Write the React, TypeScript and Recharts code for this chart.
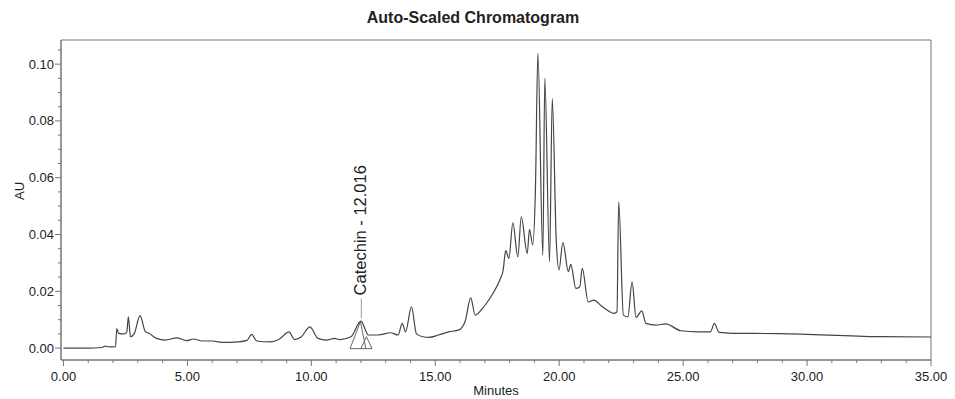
import { LineChart, Line, XAxis, YAxis, ReferenceLine, ReferenceDot, ReferenceArea } from 'recharts'

// retention time (min) and absorbance (AU)
const times = [
  0, 1.0, 1.55, 1.68, 1.85, 2.1, 2.15, 2.22, 2.45, 2.55,
  2.62, 2.7, 2.85, 3.09, 3.3, 3.45, 3.76, 4.1, 4.57, 4.97,
  5.24, 5.6, 6.0, 6.4, 7.07, 7.4, 7.59, 7.8, 8.35, 8.75,
  9.09, 9.33, 9.6, 9.94, 10.27, 10.6, 10.94, 11.15, 11.6, 12.0,
  12.3, 12.7, 13.2, 13.5, 13.67, 13.8, 14.04, 14.24, 14.5, 14.75,
  15.13, 15.53, 15.93, 16.2, 16.43, 16.61, 16.85, 17.06, 17.33, 17.6,
  17.74, 17.84, 17.97, 18.13, 18.33, 18.47, 18.71, 18.8, 18.93, 19.04,
  19.14, 19.34, 19.42, 19.61, 19.72, 19.88, 19.99, 20.15, 20.37, 20.47,
  20.67, 20.83, 20.93, 21.17, 21.4, 21.67, 21.93, 22.2, 22.33, 22.4,
  22.59, 22.77, 22.94, 23.1, 23.33, 23.5, 23.9, 24.3, 24.91, 25.6,
  26.1, 26.26, 26.45, 27.0, 28.9, 32.9, 35.0,
]
const absorbance = [
  0.0, 0.0, 0.0002, 0.0007, 0.0004, 0.0005, 0.0069, 0.0052, 0.005, 0.0055,
  0.011, 0.004, 0.005, 0.0114, 0.0058, 0.0052, 0.0034, 0.0028, 0.0036, 0.0026,
  0.0032, 0.0025, 0.0025, 0.002, 0.0022, 0.0027, 0.0048, 0.0025, 0.0022, 0.0034,
  0.0057, 0.003, 0.004, 0.0075, 0.0034, 0.0028, 0.0034, 0.003, 0.004, 0.0095,
  0.0046, 0.0046, 0.0054, 0.0046, 0.0087, 0.0057, 0.0145, 0.005, 0.004, 0.0038,
  0.0046, 0.0057, 0.0063, 0.0093, 0.0177, 0.0116, 0.0134, 0.0157, 0.0193, 0.0239,
  0.0275, 0.0343, 0.0316, 0.0441, 0.0321, 0.0462, 0.0333, 0.0418, 0.0363, 0.0556,
  0.1038, 0.0327, 0.095, 0.0304, 0.0879, 0.038, 0.0275, 0.0372, 0.0269, 0.0295,
  0.021, 0.0216, 0.0281, 0.0163, 0.0169, 0.0151, 0.0134, 0.0122, 0.0128, 0.0515,
  0.0116, 0.011, 0.0233, 0.0108, 0.0131, 0.0087, 0.0081, 0.0085, 0.0061, 0.0057,
  0.0057, 0.0087, 0.0055, 0.0052, 0.0051, 0.004, 0.0039,
]

const xMajor = [0, 5, 10, 15, 20, 25, 30, 35]
const yMajor = [0, 0.02, 0.04, 0.06, 0.08, 0.1]

// integration marks drawn under the catechin peak
const catechinMarks = [
  [11.56, -0.0002, 11.98, 0.0093],
  [11.98, 0.0093, 12.2, -0.0002],
  [11.56, -0.0002, 12.45, -0.0002],
  [12.0, -0.0002, 12.22, 0.004],
  [12.22, 0.004, 12.45, -0.0002],
]
const catechin = { name: 'Catechin - 12.016', t: 12.016, v: 0.0105 }

const data = times.map((t, i) => ({ t, v: absorbance[i] }))

const xTicks = Array.from({ length: 36 }, (_, i) => i)
const yTicks = Array.from({ length: 22 }, (_, i) => Math.round(i * 5) / 1000)

const font = '"Liberation Sans", Arial, sans-serif'
const ink = '#222'
const axisColor = '#777'

function XTick(props: any) {
  const { x, y, payload } = props
  const major = xMajor.includes(payload.value)
  return (
    <g>
      <line x1={x} x2={x} y1={y} y2={y + (major ? 6 : 3)} stroke={axisColor} />
      {major && (
        <text x={x} y={y + 21} textAnchor="middle" fontSize={13} fontFamily={font} fill={ink}>
          {payload.value.toFixed(2)}
        </text>
      )}
    </g>
  )
}

function YTick(props: any) {
  const { x, y, payload } = props
  const major = yMajor.some((m) => Math.abs(m - payload.value) < 1e-9)
  return (
    <g>
      <line x1={x} x2={x - (major ? 6 : 3)} y1={y} y2={y} stroke={axisColor} />
      {major && (
        <text x={x - 7} y={y + 4.5} textAnchor="end" fontSize={13} fontFamily={font} fill={ink}>
          {payload.value.toFixed(2)}
        </text>
      )}
    </g>
  )
}

function PeakLabel(props: any) {
  const { cx, cy } = props
  return (
    <text
      x={cx + 5}
      y={cy - 3}
      transform={`rotate(-90 ${cx + 5} ${cy - 3})`}
      fontSize={16.5}
      fontFamily={font}
      fill={ink}
    >
      {catechin.name}
    </text>
  )
}

export default function App() {
  return (
    <div style={{ position: 'absolute', left: 0, top: 0, width: 955, height: 399, background: '#fff' }}>
      <div
        style={{
          position: 'absolute',
          left: 273,
          top: 8,
          width: 400,
          textAlign: 'center',
          fontFamily: font,
          fontWeight: 'bold',
          fontSize: 16,
          lineHeight: '20px',
          color: ink,
        }}
      >
        Auto-Scaled Chromatogram
      </div>
      <LineChart
        width={955}
        height={399}
        data={data}
        margin={{ top: 40, right: 24, bottom: 9, left: 16 }}
        style={{ position: 'absolute', left: 0, top: 0 }}
      >
        <XAxis
          dataKey="t"
          type="number"
          domain={[-0.1, 35]}
          ticks={xTicks}
          interval={0}
          allowDataOverflow
          height={30}
          tickSize={0}
          tickMargin={0}
          tickLine={false}
          stroke={axisColor}
          tick={<XTick />}
          label={{ value: 'Minutes', position: 'insideBottom', offset: -5, fontSize: 13, fontFamily: font, fill: ink }}
        />
        <YAxis
          type="number"
          domain={[-0.0042, 0.1085]}
          ticks={yTicks}
          interval={0}
          allowDataOverflow
          width={45}
          tickSize={0}
          tickMargin={0}
          tickLine={false}
          stroke={axisColor}
          tick={<YTick />}
          label={{ value: 'AU', angle: -90, position: 'insideLeft', offset: 3, fontSize: 13, fontFamily: font, fill: ink }}
        />
        <ReferenceArea x1={-0.1} x2={35} y1={-0.0042} y2={0.1085} fill="none" stroke={axisColor} strokeWidth={1} />
        {catechinMarks.map((m, i) => (
          <ReferenceLine
            key={i}
            segment={[{ x: m[0], y: m[1] }, { x: m[2], y: m[3] }]}
            stroke="#666"
            strokeWidth={1}
          />
        ))}
        <ReferenceLine
          segment={[{ x: catechin.t, y: catechin.v }, { x: catechin.t, y: catechin.v + 0.007 }]}
          stroke="#999"
          strokeWidth={1}
        />
        <Line
          type="monotone"
          dataKey="v"
          stroke="#444"
          strokeWidth={1.2}
          dot={false}
          isAnimationActive={false}
        />
        <ReferenceDot x={catechin.t} y={catechin.v + 0.007} r={0} shape={<PeakLabel />} />
      </LineChart>
    </div>
  )
}
